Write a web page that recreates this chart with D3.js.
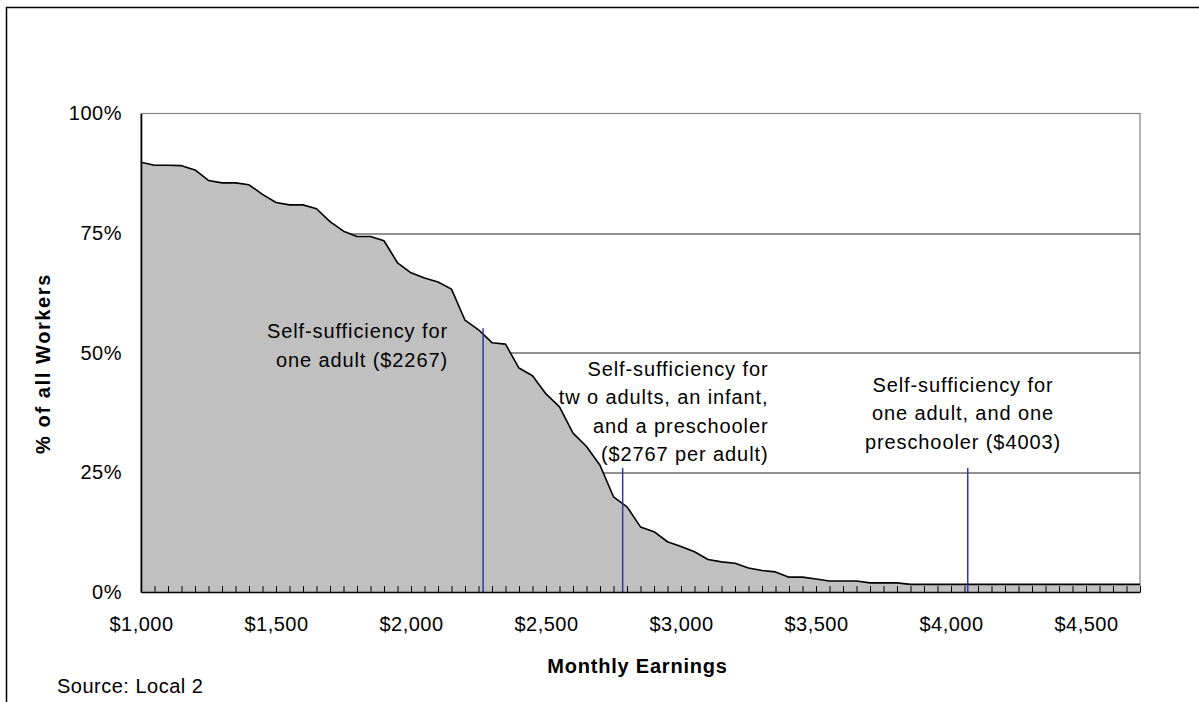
<!DOCTYPE html>
<html>
<head>
<meta charset="utf-8">
<script src="https://cdn.jsdelivr.net/npm/d3@7"></script>
<style>
    body { margin: 0; background: #fff; }
    text { font-family: "Liberation Sans", Arial, sans-serif; fill: #000; }
    .tick-label { font-size: 20px; letter-spacing: 0.5px; }
    .axis-title { font-size: 20px; font-weight: bold; letter-spacing: 0.8px; }
    .y-title { letter-spacing: 1.6px; }
    .note { font-size: 20px; letter-spacing: 0.9px; }
</style>
</head>
<body>
<div id="chart"></div>
<script>
// Monthly earnings categories ($50 steps) and share of workers earning at least that much
const earnings = d3.range(1000, 4701, 50);
const shareOfWorkers = [
    89.8, 89.2, 89.2, 89.1, 88.2, 86.0, 85.5, 85.5, 85.1, 83.1,
    81.4, 80.9, 80.9, 80.1, 77.4, 75.4, 74.3, 74.3, 73.4, 68.8,
    66.7, 65.6, 64.8, 63.3, 56.8, 54.8, 52.1, 51.8, 46.8, 45.2,
    41.4, 38.7, 33.2, 30.4, 26.5, 19.9, 17.8, 13.6, 12.6, 10.5,
    9.5, 8.4, 6.8, 6.3, 6.0, 5.0, 4.5, 4.2, 3.1, 3.1,
    2.7, 2.3, 2.3, 2.3, 1.9, 1.9, 1.9, 1.6, 1.6, 1.6,
    1.6, 1.6, 1.6, 1.6, 1.6, 1.6, 1.6, 1.6, 1.6, 1.6,
    1.6, 1.6, 1.6, 1.6, 1.6
];
const yTicks = [0, 25, 50, 75, 100];
const xLabelEvery = 500;

// Self-sufficiency markers (position as drawn, top of line in %)
const markerEarnings = [2267, 2784, 4062];
const markerTops = [55.1, 25.9, 25.9];
const markerNotes = [
    ["Self-sufficiency for", "one adult ($2267)"],
    ["Self-sufficiency for", "tw o adults, an infant,", "and a preschooler", "($2767 per adult)"],
    ["Self-sufficiency for", "one adult, and one", "preschooler ($4003)"]
];

const margin = {top: 113.5, right: 59, bottom: 110, left: 141};
const totalW = 1199, totalH = 702;
const width = totalW - margin.left - margin.right;
const height = totalH - margin.top - margin.bottom;

const root = d3.select("#chart").append("svg")
    .attr("width", totalW)
    .attr("height", totalH);

// Outer chart border (runs off the right and bottom of the picture)
root.append("rect")
    .attr("x", 6.5).attr("y", 7.5)
    .attr("width", 1300).attr("height", 800)
    .attr("fill", "none")
    .attr("stroke", "#000")
    .attr("stroke-width", 1.5);

const svg = root.append("g")
    .attr("transform", `translate(${margin.left},${margin.top})`);

const x = d3.scaleLinear().domain([1000, 4700]).range([0, width]);
const y = d3.scaleLinear().domain([0, 100]).range([height, 0]);

// Plot area frame
svg.append("rect")
    .attr("x", 0).attr("y", 0)
    .attr("width", width).attr("height", height)
    .attr("fill", "#fff")
    .attr("stroke", "#808080")
    .attr("stroke-width", 1.2);

// Gridlines
svg.selectAll(".grid")
    .data(yTicks.filter(t => t > 0 && t < 100))
    .enter()
    .append("line")
    .attr("x1", 0).attr("x2", width)
    .attr("y1", d => Math.round(y(d)) + 0.5)
    .attr("y2", d => Math.round(y(d)) + 0.5)
    .attr("stroke", "#222")
    .attr("stroke-width", 1);

// Area
const data = earnings.map((e, i) => ({e: e, v: shareOfWorkers[i]}));

svg.append("path")
    .datum(data)
    .attr("fill", "#c0c0c0")
    .attr("d", d3.area().x(d => x(d.e)).y0(height).y1(d => y(d.v)));

svg.append("path")
    .datum(data)
    .attr("fill", "none")
    .attr("stroke", "#000")
    .attr("stroke-width", 1.6)
    .attr("stroke-linejoin", "round")
    .attr("d", d3.line().x(d => x(d.e)).y(d => y(d.v)));

// Marker lines
svg.selectAll(".marker")
    .data(markerEarnings)
    .enter()
    .append("line")
    .attr("x1", d => x(d)).attr("x2", d => x(d))
    .attr("y1", (d, i) => y(markerTops[i]))
    .attr("y2", height)
    .attr("stroke", "#3535a8")
    .attr("stroke-width", 1.5);

// X axis: ticks pointing up, labels every $500
const xAxis = svg.append("g")
    .attr("transform", `translate(0,${height})`)
    .call(d3.axisBottom(x)
        .tickValues(earnings)
        .tickSizeInner(-6)
        .tickSizeOuter(0)
        .tickPadding(25)
        .tickFormat(d => d % xLabelEvery === 0 ? "$" + d3.format(",")(d) : ""));
xAxis.select(".domain").attr("stroke", "#000").attr("stroke-width", 1.6);
xAxis.selectAll("line").attr("stroke", "#000");
xAxis.selectAll("text")
    .attr("class", "tick-label")
    .attr("font-family", null)
    .attr("font-size", null)
    .attr("fill", "#000");

// Y axis
const yAxis = svg.append("g")
    .call(d3.axisLeft(y)
        .tickValues(yTicks)
        .tickSize(0)
        .tickPadding(19)
        .tickFormat(d => d + "%"));
yAxis.select(".domain").attr("stroke", "#000").attr("stroke-width", 1.6);
yAxis.selectAll("text")
    .attr("class", "tick-label")
    .attr("font-family", null)
    .attr("font-size", null)
    .attr("fill", "#000");

// Axis titles
svg.append("text")
    .attr("class", "axis-title")
    .attr("text-anchor", "middle")
    .attr("x", width / 2 - 3)
    .attr("y", height + 81)
    .text("Monthly Earnings");

svg.append("text")
    .attr("class", "axis-title y-title")
    .attr("text-anchor", "middle")
    .attr("transform", "rotate(-90)")
    .attr("x", -250)
    .attr("y", -91)
    .text("% of all Workers");

// Notes
const notePos = [
    {x: 307, y: 224.8, anchor: "end"},
    {x: 627.5, y: 262.3, anchor: "end"},
    {x: 822, y: 278.3, anchor: "middle"}
];
markerNotes.forEach((lines, i) => {
    const t = svg.append("text")
        .attr("class", "note")
        .attr("text-anchor", notePos[i].anchor);
    lines.forEach((line, j) => {
        t.append("tspan")
            .attr("x", notePos[i].x)
            .attr("y", notePos[i].y + j * 28.5)
            .text(line);
    });
});

// Source
root.append("text")
    .attr("class", "tick-label")
    .attr("x", 57)
    .attr("y", 693)
    .text("Source: Local 2");
</script>
</body>
</html>
